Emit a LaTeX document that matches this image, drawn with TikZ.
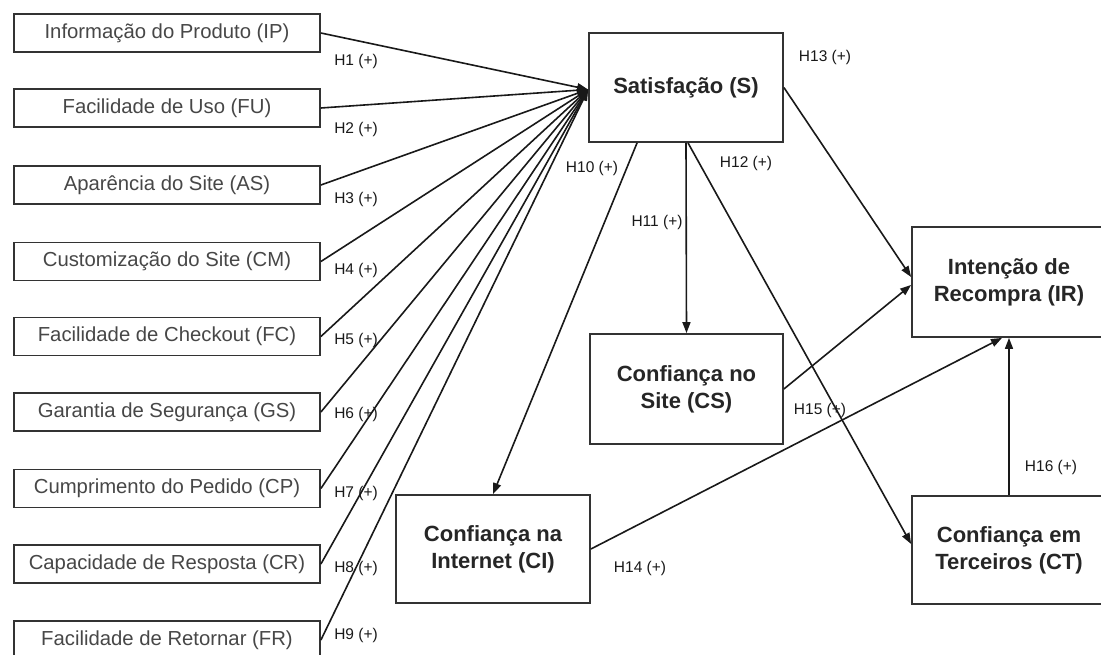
\documentclass[tikz,border=0pt]{standalone}
\usepackage{fontspec}
\setmainfont{Liberation Sans}
\usetikzlibrary{arrows.meta,calc}
\begin{document}
\begin{tikzpicture}[x=1pt,y=-1pt,
  lbox/.style={draw=black!80, line width=1.8pt, minimum width=306pt, minimum height=38pt, inner sep=0pt,
    font=\fontsize{20.3}{22}\selectfont, text=black!72},
  bbox/.style={draw=black!80, line width=1.8pt, inner sep=0pt, align=center,
    font=\fontsize{22}{27}\selectfont\bfseries, text=black!85},
  arr/.style={draw=black!90, line width=1.6pt, -{Triangle[length=11pt,width=8pt]}},
  hlab/.style={font=\fontsize{15.5}{17}\selectfont, text=black!90, inner sep=0pt}]
\useasboundingbox (0,0) rectangle (1101,655);
\clip (0,0) rectangle (1101,655);
\fill[white] (0,0) rectangle (1101,655);

% left column
\node[lbox] (IP) at (167,33) {Informação do Produto (IP)};
\node[lbox] (FU) at (167,108) {Facilidade de Uso (FU)};
\node[lbox] (AS) at (167,185) {Aparência do Site (AS)};
\node[lbox] (CM) at (167,261.5) {Customização do Site (CM)};
\node[lbox] (FC) at (167,336.5) {Facilidade de Checkout (FC)};
\node[lbox] (GS) at (167,412) {Garantia de Segurança (GS)};
\node[lbox] (CP) at (167,488.5) {Cumprimento do Pedido (CP)};
\node[lbox] (CR) at (167,564) {Capacidade de Resposta (CR)};
\node[lbox] (FR) at (167,640) {Facilidade de Retornar (FR)};

% main constructs
\node[bbox, minimum width=194pt, minimum height=109pt] (S) at (686,87.5) {Satisfação (S)};
\node[bbox, minimum width=193pt, minimum height=110pt] (CS) at (686.5,389) {Confiança no\\Site (CS)};
\node[bbox, minimum width=194pt, minimum height=108pt] (CI) at (493,549) {Confiança na\\Internet (CI)};
\node[bbox, minimum width=194pt, minimum height=110pt] (IR) at (1009,282) {Intenção de\\Recompra (IR)};
\node[bbox, minimum width=194pt, minimum height=108pt] (CT) at (1009,550) {Confiança em\\Terceiros (CT)};

\coordinate (conv) at ($(S.west)+(0,2)$);
\foreach \n in {IP,FU,AS,CM,FC,GS,CP,CR,FR}{
  \draw[arr] (\n.east) -- (conv);
}

\coordinate (Sa) at ($(S.south west)!0.25!(S.south east)$);
\draw[arr] (Sa) -- (CI.north);
\draw[arr] (S.south) -- (CS.north);
\coordinate (Sb) at ($(S.south)+(2,0)$);
\coordinate (CTin) at ($(CT.west)+(0,-6)$);
\draw[arr] (Sb) -- (CTin);
\coordinate (IRa) at ($(IR.west)+(0,-5)$);
\coordinate (IRb) at ($(IR.west)+(0,3)$);
\draw[arr] (S.east) -- (IRa);
\draw[arr] (CS.east) -- (IRb);
\coordinate (IRc) at ($(IR.south)+(-7,0)$);
\draw[arr] (CI.east) -- (IRc);
\draw[arr] (CT.north) -- (IR.south);

% labels
\node[hlab] (h1) at (356,61) {H1 (+)};
\node[hlab] (h2) at (356,129) {H2 (+)};
\node[hlab] (h3) at (356,199) {H3 (+)};
\node[hlab] (h4) at (356,270) {H4 (+)};
\node[hlab] (h5) at (356,340) {H5 (+)};
\node[hlab] (h6) at (356,414) {H6 (+)};
\node[hlab] (h7) at (356,493) {H7 (+)};
\node[hlab] (h8) at (356,568) {H8 (+)};
\node[hlab] (h9) at (356,635) {H9 (+)};
\node[hlab] (h10) at (592,168) {H10 (+)};
\node[hlab] (h11) at (657,222) {H11 (+)};
\node[hlab] (h12) at (746,163) {H12 (+)};
\node[hlab] (h13) at (825,57) {H13 (+)};
\node[hlab] (h14) at (640,568) {H14 (+)};
\node[hlab] (h15) at (820,410) {H15 (+)};
\node[hlab] (h16) at (1051,467) {H16 (+)};
\end{tikzpicture}
\end{document}
